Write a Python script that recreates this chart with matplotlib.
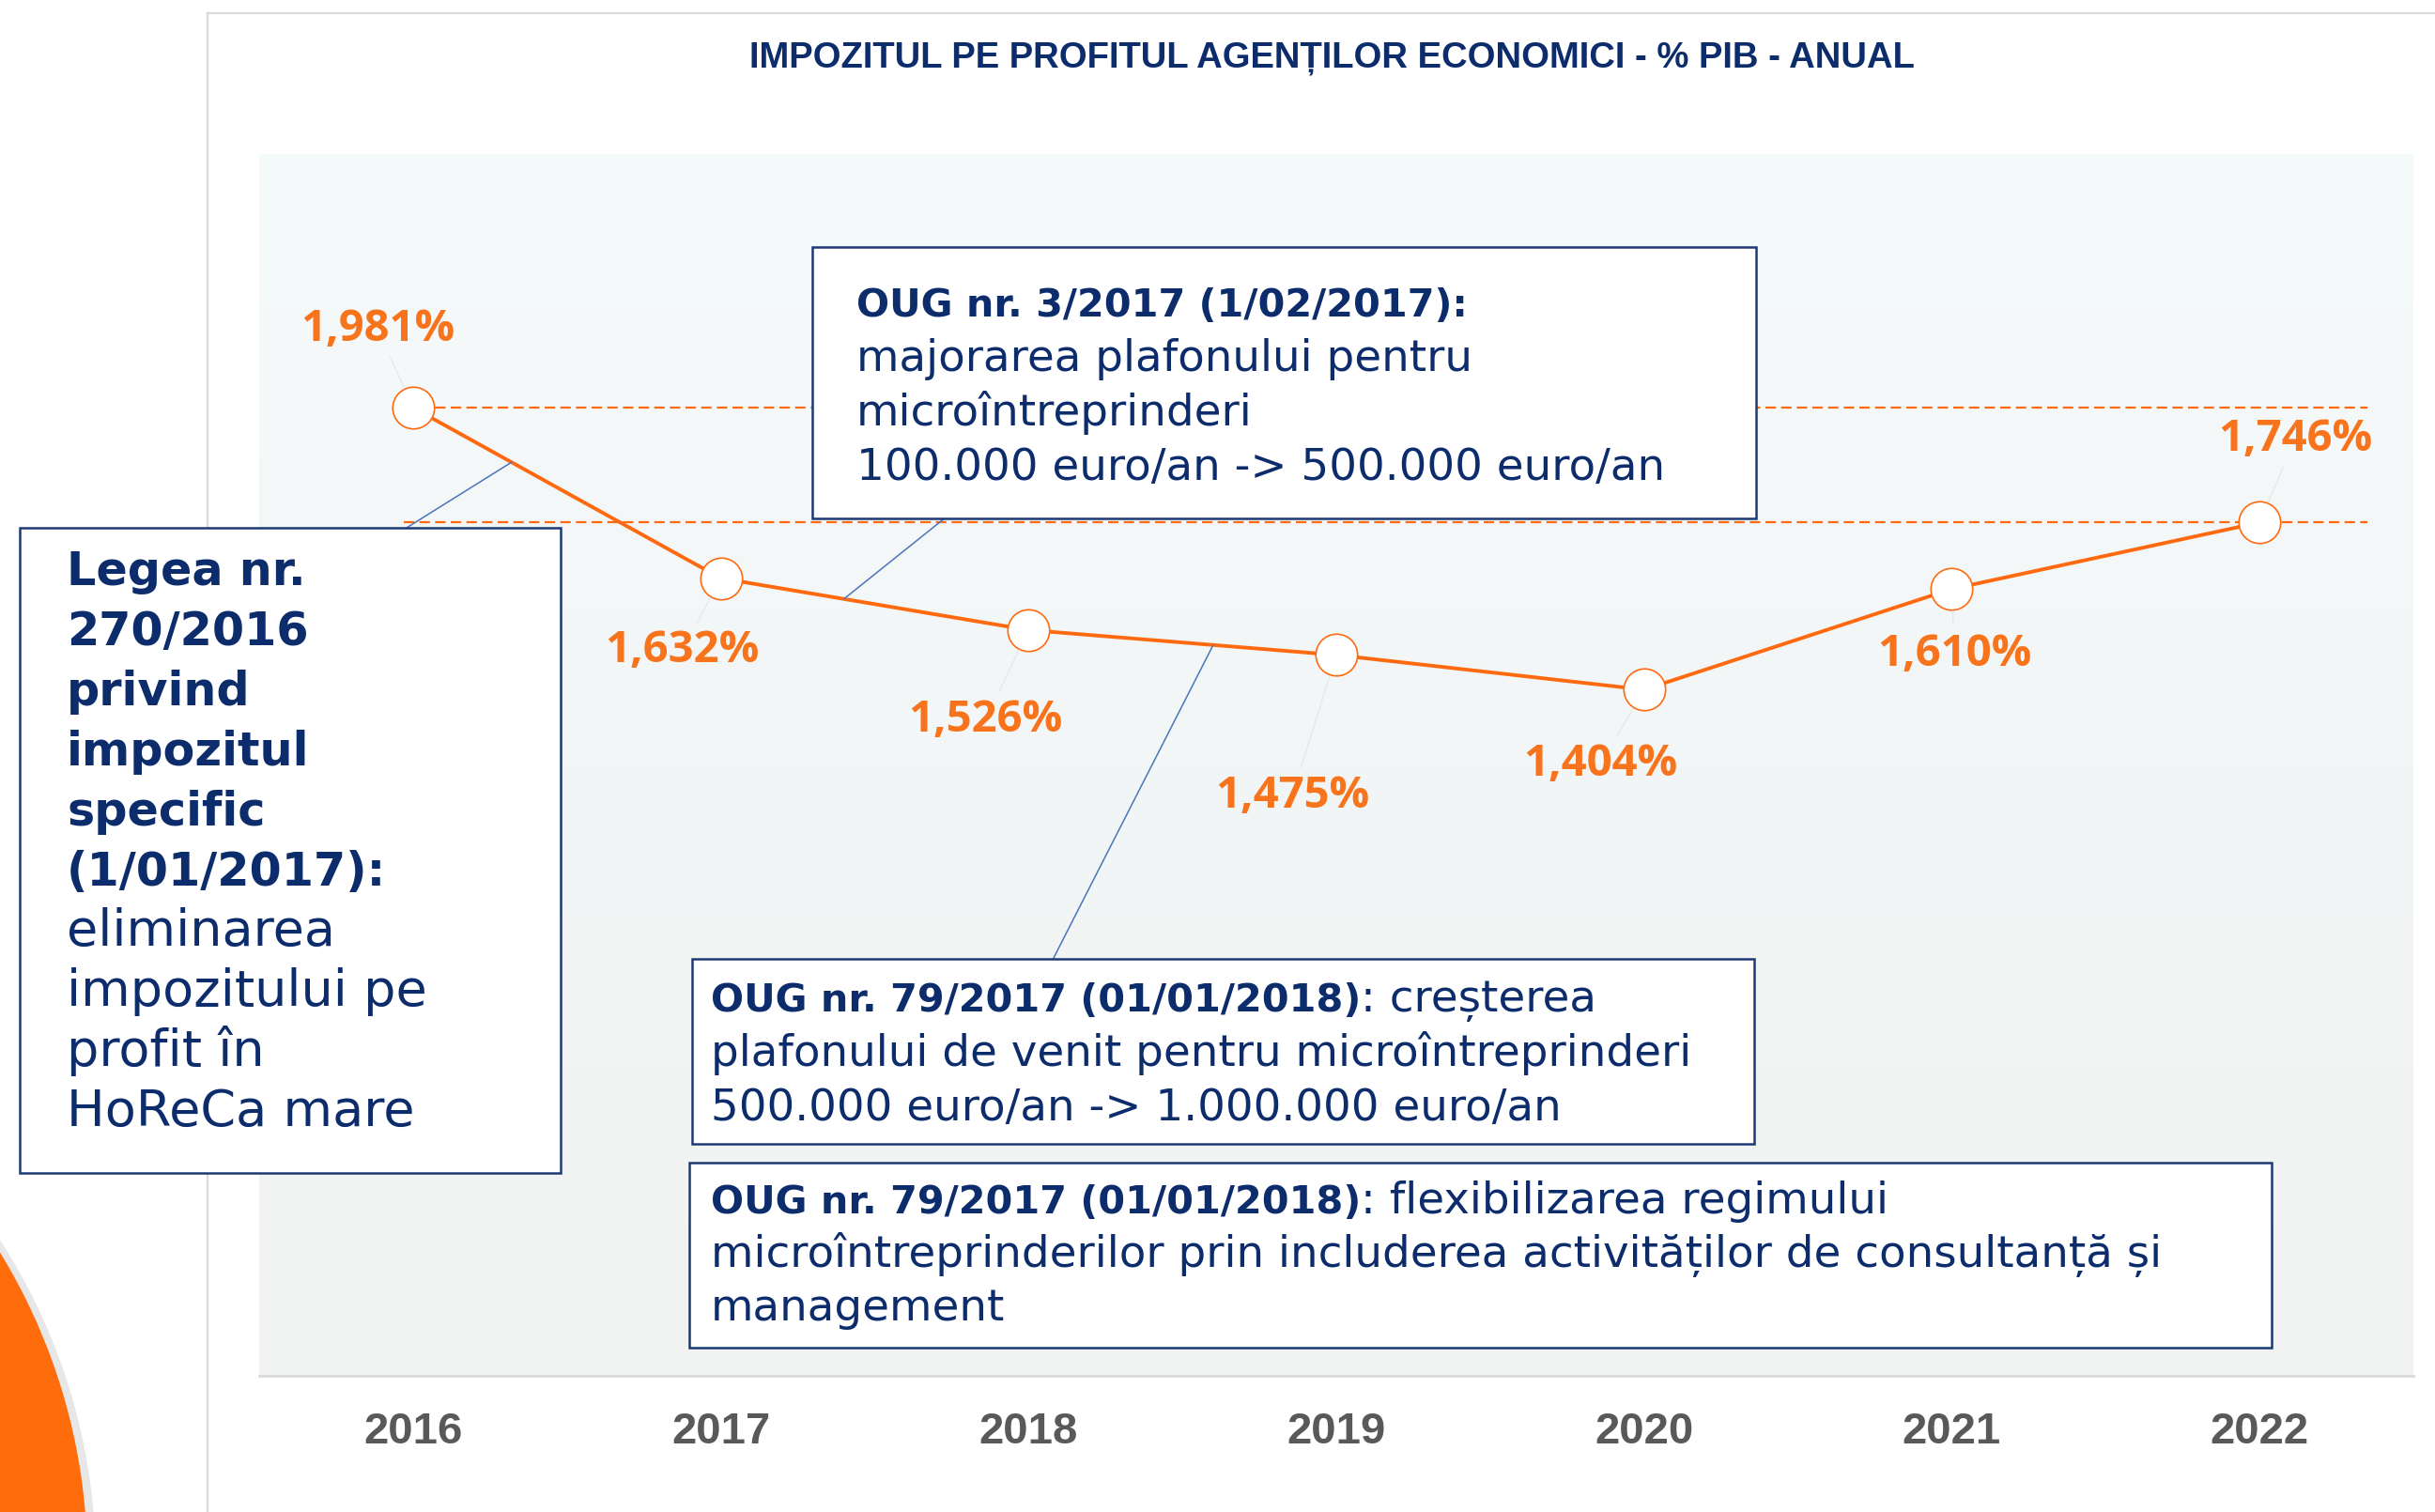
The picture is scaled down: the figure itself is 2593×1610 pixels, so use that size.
import numpy as np
import matplotlib
matplotlib.use('Agg')
import matplotlib.pyplot as plt
from matplotlib.patches import Rectangle, Circle, ConnectionPatch
from matplotlib.colors import LinearSegmentedColormap

# date (% PIB)
years = ['2016', '2017', '2018', '2019', '2020', '2021', '2022']
values = [1.981, 1.632, 1.526, 1.475, 1.404, 1.610, 1.746]
# pozitia etichetelor fata de puncte (pixeli)
label_offsets = [(-38, 84), (-41, -77), (-46, -96), (-47, -150), (-46, -79), (3, -69), (38, 89)]

title = 'IMPOZITUL PE PROFITUL AGENȚILOR ECONOMICI - % PIB - ANUAL'

legea_bold = ['Legea nr.', '270/2016', 'privind', 'impozitul', 'specific', '(1/01/2017):']
legea_reg = ['eliminarea', 'impozitului pe', 'profit în', 'HoReCa mare']

oug3_lines = [[('OUG nr. 3/2017 (1/02/2017):', 'bold')],
              [('majorarea plafonului pentru', 'normal')],
              [('microîntreprinderi', 'normal')],
              [('100.000 euro/an -> 500.000 euro/an', 'normal')]]
oug79a_lines = [[('OUG nr. 79/2017 (01/01/2018)', 'bold'), (': creșterea', 'normal')],
                [('plafonului de venit pentru microîntreprinderi', 'normal')],
                [('500.000 euro/an -> 1.000.000 euro/an', 'normal')]]
oug79b_lines = [[('OUG nr. 79/2017 (01/01/2018)', 'bold'), (': flexibilizarea regimului', 'normal')],
                [('microîntreprinderilor prin includerea activităților de consultanță și', 'normal')],
                [('management', 'normal')]]

NAVY = '#0c2c6c'
EDGE = '#1d3a74'
ORANGE = '#ff6a10'
LABEL_OR = '#f7731c'

W, H = 2593, 1610
fig = plt.figure(figsize=(W / 100, H / 100), dpi=100)
fig.patch.set_facecolor('white')

# fundal (pagina): cerc portocaliu + chenar panou
bg = fig.add_axes([0, 0, 1, 1], zorder=0)
bg.set_xlim(0, W)
bg.set_ylim(H, 0)
bg.axis('off')
bg.add_patch(Circle((-531, 1665), 633, color='#b0b0b0', alpha=0.3, lw=0))
bg.add_patch(Circle((-537, 1663), 630, color='#ff6c0c', lw=0))
bg.plot([221, 221], [14, H], color='#dadada', lw=1.6)
bg.plot([221, W], [14, 14], color='#dadada', lw=1.6)

# grafic
ax = fig.add_axes([276 / W, 1 - 1465 / H, (2570 - 276) / W, (1465 - 164) / H], zorder=1)
x = np.arange(len(years))
grad = np.linspace(0, 1, 200).reshape(-1, 1)
cmap = LinearSegmentedColormap.from_list('bgr', ['#f1f2f2', '#f5fafa'])
ax.imshow(grad, extent=[-0.5, 6.5, 0, 2.5], origin='lower', aspect='auto', cmap=cmap, zorder=0)
ax.set_xlim(-0.5, 6.5)
ax.set_ylim(0, 2.5)

ax.hlines([values[0], values[-1]], -0.03, 6.35, colors=ORANGE, linestyles=(0, (5, 2.5)), lw=1.6, zorder=1)
ax.plot(x, values, color=ORANGE, lw=2.8, marker='o', ms=32, mfc='white', mec=ORANGE, mew=1.2, zorder=3)

for i, v in enumerate(values):
    txt = f'{v:.3f}'.replace('.', ',') + '%'
    ax.annotate(txt, xy=(i, v), xytext=label_offsets[i], textcoords='offset pixels',
                ha='center', va='center', color=LABEL_OR, fontsize=34, fontweight='bold',
                family=['Open Sans', 'DejaVu Sans'],
                arrowprops=dict(arrowstyle='-', color='#e4e9e9', lw=1, shrinkA=3, shrinkB=17),
                zorder=4)

for s in ['top', 'left', 'right']:
    ax.spines[s].set_visible(False)
ax.spines['bottom'].set_color('#d9d9d9')
ax.spines['bottom'].set_linewidth(2)
ax.set_yticks([])
ax.set_xticks(x, labels=years)
ax.tick_params(axis='x', length=0, pad=27, labelsize=34, labelcolor='#595959')
for lab in ax.get_xticklabels():
    lab.set_fontweight('bold')
    lab.set_family(['Liberation Sans', 'DejaVu Sans'])

# adnotari
deco = fig.add_axes([0, 0, 1, 1], zorder=2)
deco.set_xlim(0, W)
deco.set_ylim(H, 0)
deco.axis('off')
deco.patch.set_alpha(0)

deco.text(1418, 72, title, ha='center', va='baseline', fontsize=27.5, fontweight='bold',
          color=NAVY, family=['Liberation Sans', 'DejaVu Sans'])

# legaturi cutii -> linie (segment, fractiune)
links = [((433, 562), 0, 0.32), ((1007, 551), 1, 0.40), ((1121, 1022), 2, 0.60)]
for (px, py), seg, t in links:
    lx = seg + t
    ly = values[seg] + t * (values[seg + 1] - values[seg])
    con = ConnectionPatch(xyA=(px, py), coordsA=deco.transData, xyB=(lx, ly), coordsB=ax.transData,
                          color='#4a75bb', lw=1.1, zorder=1)
    deco.add_artist(con)

boxes = [(21, 562, 597, 1249), (865, 263, 1870, 552), (737, 1021, 1868, 1218), (734, 1238, 2419, 1435)]
for x0, y0, x1, y1 in boxes:
    deco.add_patch(Rectangle((x0, y0), x1 - x0, y1 - y0, facecolor='white', edgecolor=EDGE, lw=1.8, zorder=2))

renderer = fig.canvas.get_renderer()


def put_runs(x0, y0, runs, reg_size, bold_size):
    xx = x0
    for txt, weight in runs:
        fs = bold_size if weight == 'bold' else reg_size
        t = deco.text(xx, y0, txt, ha='left', va='baseline', fontsize=fs, fontweight=weight,
                      color=NAVY, family='DejaVu Sans', zorder=3)
        xx += t.get_window_extent(renderer).width


for k, line in enumerate(oug3_lines):
    put_runs(912, 337 + k * 58, line, 33.7, 29.8)
for k, line in enumerate(oug79a_lines):
    put_runs(757, 1077 + k * 58, line, 33.7, 29.8)
for k, line in enumerate(oug79b_lines):
    put_runs(757, 1292 + k * 57, line, 33.7, 29.8)

legea = [(s, 'bold') for s in legea_bold] + [(s, 'normal') for s in legea_reg]
for k, (s, w) in enumerate(legea):
    put_runs(71, 623 + k * 64, [(s, w)], 39, 35.5)

fig.savefig('out.png', dpi=100)
